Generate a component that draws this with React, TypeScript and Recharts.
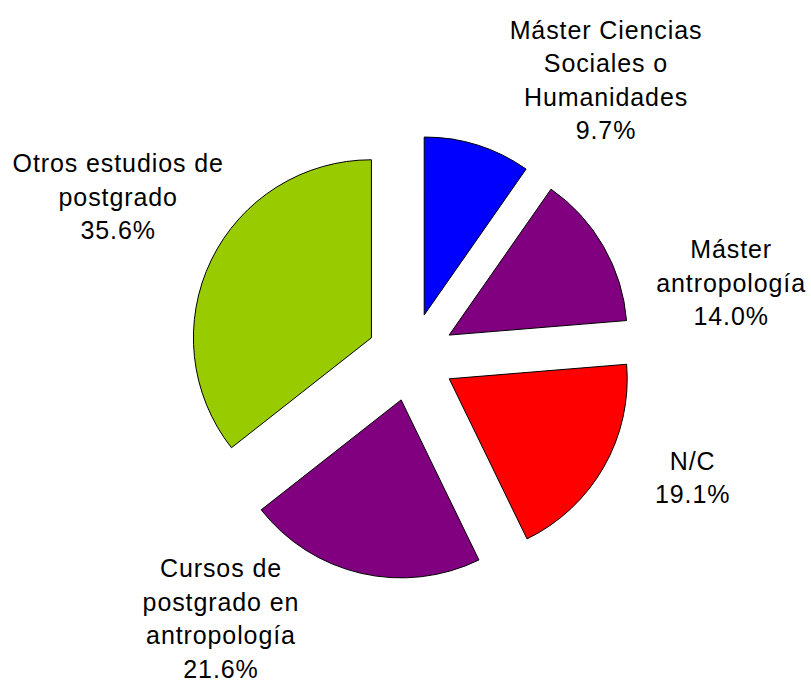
import React from 'react';
import { PieChart, Pie, Cell, Sector } from 'recharts';

// survey share per category, clockwise from 12 o'clock
const categories = [
  'Máster Ciencias\nSociales o\nHumanidades',
  'Máster\nantropología',
  'N/C',
  'Cursos de\npostgrado en\nantropología',
  'Otros estudios de\npostgrado',
];
const shares = [9.7, 14.0, 19.1, 21.6, 35.6];
const sliceColors = ['#0000FF', '#800080', '#FF0000', '#800080', '#99CC00'];

const data = categories.map((name, i) => ({ name, value: shares[i] }));

const RAD = Math.PI / 180;
const EXPLODE = 44;
const LINE_H = 33.5;
// where the label blocks sit, relative to a point 330px out along each slice's mid angle
const labelNudge: [number, number][] = [
  [96, 38],
  [34, 90],
  [-5, -43],
  [-116, -60],
  [4, -16],
];

const ExplodedSlice = (props: any) => {
  const { cx, cy, midAngle } = props;
  const ox = cx + EXPLODE * Math.cos(-midAngle * RAD);
  const oy = cy + EXPLODE * Math.sin(-midAngle * RAD);
  return <Sector {...props} cx={ox} cy={oy} />;
};

const renderLabel = (props: any) => {
  const { cx, cy, midAngle, index, value, name } = props;
  const ax = cx + 330 * Math.cos(-midAngle * RAD) + labelNudge[index][0];
  const ay = cy + 330 * Math.sin(-midAngle * RAD) + labelNudge[index][1];
  const lines = [...String(name).split('\n'), `${Number(value).toFixed(1)}%`];
  const top = ay - ((lines.length - 1) * LINE_H) / 2 + 9;
  return (
    <text
      x={ax}
      y={top}
      textAnchor="middle"
      fill="#000"
      fontSize={25}
      letterSpacing={0.9}
      fontFamily="'Liberation Sans', Arial, sans-serif"
    >
      {lines.map((l, i) => (
        <tspan key={i} x={ax} y={top + i * LINE_H}>
          {l}
        </tspan>
      ))}
    </text>
  );
};

export default function App() {
  return (
    <div style={{ position: 'absolute', left: 0, top: 0, width: 811, height: 680, background: '#fff' }}>
      <PieChart width={811} height={680} margin={{ top: 0, right: 0, bottom: 0, left: 0 }}>
        <Pie
          data={data}
          dataKey="value"
          nameKey="name"
          cx={411}
          cy={357}
          outerRadius={178}
          startAngle={90}
          endAngle={-270}
          stroke="#000"
          strokeWidth={1}
          shape={ExplodedSlice}
          inactiveShape={ExplodedSlice}
          label={renderLabel}
          labelLine={false}
          isAnimationActive={false}
        >
          {data.map((d, i) => (
            <Cell key={d.name} fill={sliceColors[i]} />
          ))}
        </Pie>
      </PieChart>
    </div>
  );
}
